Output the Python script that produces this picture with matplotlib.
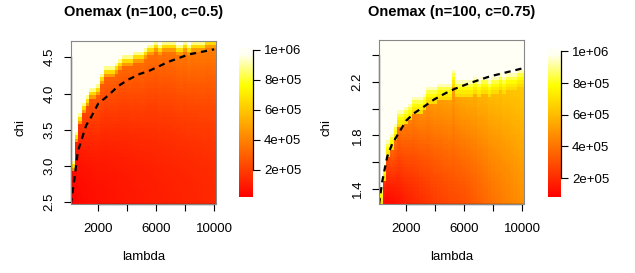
import numpy as np
import matplotlib
matplotlib.use("Agg")
import matplotlib.pyplot as plt
from matplotlib.colors import LinearSegmentedColormap, Normalize

plt.rcParams['font.family'] = ['Liberation Sans', 'DejaVu Sans']

# grid of the two runs
lambdas = np.arange(250, 10001, 250)
chi1 = np.round(np.arange(2.5, 4.7001, 0.05), 3)
chi2 = np.round(np.arange(1.3, 2.5001, 0.025), 3)

# c=0.5 : highest chi that still finishes, value at the bottom, value under the yellow band
edge1 = [3.05, 3.45, 3.70, 3.85, 3.95, 4.05, 4.05, 4.10, 4.25, 4.35,
         4.35, 4.35, 4.40, 4.45, 4.50, 4.50, 4.50, 4.55, 4.55, 4.55,
         4.60, 4.65, 4.65, 4.70, 4.65, 4.70, 4.70, 4.70, 4.70, 4.65,
         4.65, 4.70, 4.65, 4.70, 4.70, 4.70, 4.70, 4.75, 4.75, 4.75]
low1 = [30, 38, 45, 50, 55, 60, 62, 66, 70, 72,
        75, 76, 80, 82, 84, 86, 90, 92, 94, 96,
        98, 100, 103, 105, 108, 110, 112, 114, 116, 118,
        120, 122, 124, 126, 128, 130, 132, 134, 136, 140]
top1 = [60, 120, 170, 210, 240, 260, 270, 280, 290, 300,
        300, 305, 310, 315, 320, 320, 325, 330, 330, 335,
        340, 340, 345, 345, 350, 350, 355, 355, 360, 360,
        365, 365, 370, 370, 375, 375, 380, 380, 385, 390]
band1 = [880, 660, 470]

# c=0.75
edge2 = [1.400, 1.575, 1.750, 1.800, 1.875, 1.975, 1.975, 2.000, 2.025, 2.075,
         2.075, 2.075, 2.100, 2.150, 2.150, 2.150, 2.175, 2.175, 2.175, 2.175,
         2.275, 2.200, 2.200, 2.200, 2.200, 2.200, 2.225, 2.200, 2.225, 2.225,
         2.200, 2.225, 2.225, 2.250, 2.225, 2.250, 2.250, 2.250, 2.275, 2.275]
low2 = [90, 100, 110, 120, 130, 140, 155, 170, 180, 190,
        200, 210, 220, 230, 240, 250, 258, 265, 272, 280,
        285, 290, 295, 300, 312, 325, 337, 350, 362, 375,
        387, 400, 410, 420, 430, 440, 450, 460, 470, 480]
top2 = [130, 220, 300, 350, 380, 400, 410, 420, 430, 440,
        450, 460, 470, 480, 490, 500, 505, 510, 515, 520,
        525, 530, 540, 545, 550, 555, 560, 570, 575, 580,
        590, 595, 600, 605, 610, 615, 620, 625, 630, 640]
band2 = [930, 840, 780, 730, 690]

# theoretical curves (dashed)
curve1_lam = [110, 367, 595, 1170, 1474, 2000, 2671, 3363, 4055, 4865, 5487, 6872, 8256, 10000]
curve1_chi = [2.47, 2.83, 3.20, 3.56, 3.66, 3.86, 3.97, 4.10, 4.19, 4.27, 4.31, 4.44, 4.54, 4.61]
curve2_lam = [130, 344, 689, 1034, 1489, 2000, 2524, 3214, 3904, 4712, 5333, 6368, 7748, 10000]
curve2_chi = [1.285, 1.453, 1.64, 1.737, 1.818, 1.91, 1.964, 2.014, 2.067, 2.115, 2.147, 2.19, 2.24, 2.30]

BUDGET = 1e6


def build(chi, edge, low, top, band, p):
    step = chi[1] - chi[0]
    z = np.full((len(chi), len(edge)), BUDGET)
    nb = len(band)
    for j in range(len(edge)):
        body_top = edge[j] - nb * step
        for i, c in enumerate(chi):
            if c > edge[j] + 1e-9:
                continue
            k = int(round((edge[j] - c) / step))
            if k < nb:
                z[i, j] = max(band[k], top[j]) * 1e3
            else:
                t = (c - chi[0]) / max(body_top - chi[0], step)
                z[i, j] = (low[j] + (top[j] - low[j]) * t ** p) * 1e3
    return z


heat = LinearSegmentedColormap.from_list(
    'heat', [(0, (1, 0, 0)), (0.75, (1, 1, 0)), (0.96, (1, 1, 0.96)), (1, (1, 1, 0.97))])

fig = plt.figure(figsize=(6.35, 2.73), dpi=100)
W, H = 635, 273


def rect(x0, y0, x1, y1):
    return [x0 / W, 1 - y1 / H, (x1 - x0) / W, (y1 - y0) / H]


panels = [
    dict(chi=chi1, z=build(chi1, edge1, low1, top1, band1, 2.0), zlim=(2e4, 1.013e6),
         cl=curve1_lam, cc=curve1_chi, title='Onemax (n=100, c=0.5)',
         ax=(71, 41, 216, 204), cax=(239, 48, 253, 197), cx=143.5, lx=20,
         yt=[2.5, 3.0, 3.5, 4.0, 4.5], ytl=['2.5', '3.0', '3.5', '4.0', '4.5']),
    dict(chi=chi2, z=build(chi2, edge2, low2, top2, band2, 1.3), zlim=(8e4, 1.022e6),
         cl=curve2_lam, cc=curve2_chi, title='Onemax (n=100, c=0.75)',
         ax=(379, 40, 524, 204), cax=(548, 48, 561, 197), cx=451.5, lx=327,
         yt=[1.4, 1.6, 1.8, 2.0, 2.2, 2.4], ytl=['1.4', '', '1.8', '', '2.2', '']),
]

for p in panels:
    ax = fig.add_axes(rect(*p['ax']))
    norm = Normalize(*p['zlim'])
    mesh = ax.pcolormesh(lambdas, p['chi'], p['z'], cmap=heat, norm=norm, shading='nearest')
    ax.plot(p['cl'], p['cc'], color='black', lw=1.6, linestyle=(0, (2.8, 2.2)))
    ax.set_xlim(lambdas[0] - 125, lambdas[-1] + 125)
    step = p['chi'][1] - p['chi'][0]
    ax.set_ylim(p['chi'][0] - step / 2, p['chi'][-1] + step / 2)
    for s in ax.spines.values():
        s.set_color('#888888')
        s.set_linewidth(0.8)
    ax.set_xticks([2000, 4000, 6000, 8000, 10000])
    ax.set_xticklabels(['2000', '', '6000', '', '10000'], fontsize=9.5)
    ax.set_yticks(p['yt'])
    ax.set_yticklabels(p['ytl'], fontsize=9.5, rotation=90, va='center')
    ax.tick_params(axis='x', length=5, width=0.8, pad=9)
    ax.tick_params(axis='y', length=5, width=0.8, pad=6)
    ax.plot([2000, 10000], [0, 0], color='black', lw=0.9, clip_on=False,
            transform=ax.get_xaxis_transform())
    ax.plot([0, 0], [p['yt'][0], p['yt'][-1]], color='black', lw=0.9, clip_on=False,
            transform=ax.get_yaxis_transform())

    cax = fig.add_axes(rect(*p['cax']))
    cb = fig.colorbar(mesh, cax=cax, ticks=[2e5, 4e5, 6e5, 8e5, 1e6])
    cb.outline.set_visible(False)
    cb.ax.set_yticklabels(['%.0e' % v for v in [2e5, 4e5, 6e5, 8e5, 1e6]], fontsize=9.5)
    cb.ax.tick_params(length=5, width=0.8, pad=3)
    cax.plot([1, 1], [2e5, 1e6], color='black', lw=0.9, clip_on=False,
             transform=cax.get_yaxis_transform())

    fig.text(p['cx'] / W, 1 - 12 / H, p['title'], fontsize=10.5, fontweight='bold',
             ha='center', va='center')
    fig.text(p['cx'] / W, 1 - 257 / H, 'lambda', fontsize=9.5, ha='center', va='center')
    fig.text(p['lx'] / W, 1 - 127 / H, 'chi', fontsize=9.5, ha='center', va='center',
             rotation=90)

fig.savefig('out.png', dpi=100)
